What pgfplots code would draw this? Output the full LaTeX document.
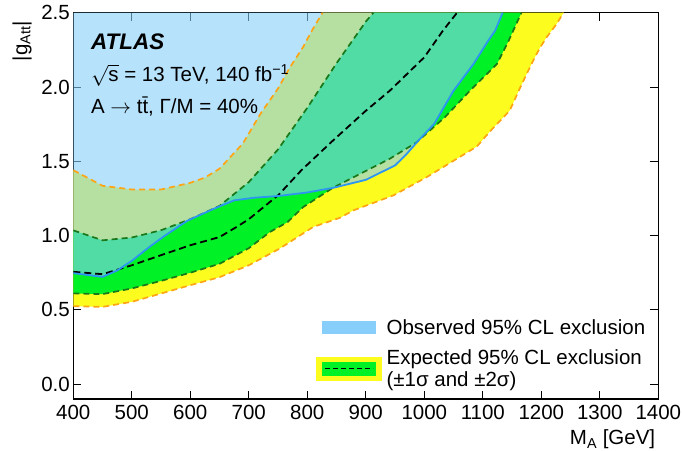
\documentclass[border=0pt]{standalone}
\usepackage{fontspec}
\setmainfont{Liberation Sans}
\usepackage{pgfplots}
\usepackage{pgfplotstable}
\pgfplotsset{compat=1.18}
\usepgfplotslibrary{fillbetween}

\definecolor{obsfill}{RGB}{135,206,250}
\definecolor{obsline}{RGB}{45,150,240}
\definecolor{bandgreen}{RGB}{0,242,38}
\definecolor{bandyellow}{RGB}{252,252,30}
\definecolor{dashorange}{RGB}{255,165,20}
\definecolor{dashgreen}{RGB}{25,120,25}

\pgfplotstableread{
x y
400 0.525
450 0.52
500 0.554
550 0.61
600 0.666
650 0.72
700 0.80
753 0.913
810 1.058
856 1.12
879 1.17
947 1.27
1004 1.393
1061 1.53
1090 1.60
1112 1.70
1146 1.841
1164 1.997
1186 2.177
1198 2.266
1209 2.334
1226 2.423
1238 2.5
}\minustwo

\pgfplotstableread{
x y
400 0.611
450 0.606
500 0.644
550 0.695
600 0.75
650 0.81
700 0.915
736 1.024
766 1.09
793 1.192
844 1.322
896 1.427
941 1.517
987 1.628
1035 1.796
1078 1.975
1124 2.154
1144 2.31
1166 2.5
}\minusone

\pgfplotstableread{
x y
400 0.756
450 0.74
500 0.80
550 0.868
600 0.935
650 0.99
680 1.06
700 1.11
736 1.226
750 1.27
790 1.44
844 1.64
900 1.84
941 1.975
1000 2.20
1032 2.38
1056 2.5
}\median

\pgfplotstableread{
x y
400 1.035
450 0.968
500 0.987
550 1.036
600 1.11
650 1.20
700 1.36
750 1.58
800 1.86
850 2.16
900 2.44
913 2.5
}\plusone

\pgfplotstableread{
x y
400 1.44
450 1.335
500 1.31
550 1.31
600 1.355
625 1.39
650 1.45
690 1.62
720 1.82
750 1.99
770 2.13
793 2.27
808 2.38
826 2.5
}\plustwo

\pgfplotstableread{
x y
400 0.747
450 0.722
475 0.765
500 0.83
530 0.923
555 0.995
595 1.10
640 1.18
675 1.237
710 1.255
750 1.266
800 1.29
845 1.322
900 1.375
950 1.472
970 1.55
990 1.64
1017 1.752
1050 1.975
1084 2.154
1109 2.31
1121 2.378
1134 2.5
}\observed

\pgfplotstableread{
x y
400 2.5
1134 2.5
}\topline

\begin{document}
\begin{tikzpicture}
\begin{axis}[
  at={(73.3pt,51pt)}, anchor=south west,
  scale only axis, width=585pt, height=386.3pt,
  xmin=400, xmax=1400, ymin=-0.1, ymax=2.5,
  xtick={400,500,...,1400},
  ytick={0,0.5,1,1.5,2,2.5},
  minor tick num=0,
  tick align=inside,
  major tick length=8pt,
  tick style={black, line width=0.9pt},
  axis line style={black, line width=1.2pt},
  /pgf/number format/assume math mode=true,
  tick label style={font=\fontsize{20.5}{24}\selectfont},
  xticklabel style={/pgf/number format/1000 sep={}, yshift=-3pt},
  yticklabel style={/pgf/number format/.cd, fixed, fixed zerofill, precision=1},
  xlabel={M\textsubscript{A} [GeV]},
  xlabel style={at={(axis description cs:0.995,-0.119)}, anchor=base east, inner sep=0pt, font=\fontsize{20.5}{24}\selectfont},
  ylabel={|g\textsubscript{Att}|},
  ylabel style={at={(axis description cs:-0.0786,0.979)}, anchor=base east, inner sep=0pt, font=\fontsize{20.5}{24}\selectfont},
  legend style={at={(axis description cs:0.4149,0.2123)}, anchor=north west, draw=none, fill=none,
    font=\fontsize{20.5}{22}\selectfont, row sep=10pt, inner sep=0pt,
    /tikz/every odd column/.append style={column sep=3pt},
    cells={anchor=west, align=left}},
  legend cell align=left,
]
\addplot[name path=m2, draw=none, forget plot] table {\minustwo};
\addplot[name path=p2, draw=none, forget plot] table {\plustwo};
\addplot[name path=m1, draw=none, forget plot] table {\minusone};
\addplot[name path=p1, draw=none, forget plot] table {\plusone};
\addplot[name path=obs, draw=none, forget plot] table {\observed};
\addplot[name path=top, draw=none, forget plot] table {\topline};
\addplot[bandyellow, forget plot] fill between[of=m2 and p2];
\addplot[bandgreen, forget plot] fill between[of=m1 and p1];
\addplot[obsfill, fill opacity=0.6, forget plot] fill between[of=obs and top];
\addplot[dashorange, dash pattern=on 6pt off 4pt, line width=1.7pt, forget plot] table {\minustwo};
\addplot[dashorange, dash pattern=on 6pt off 4pt, line width=1.7pt, forget plot] table {\plustwo};
\addplot[dashgreen, dash pattern=on 6pt off 4pt, line width=1.7pt, forget plot] table {\minusone};
\addplot[dashgreen, dash pattern=on 6pt off 4pt, line width=1.7pt, forget plot] table {\plusone};
\addplot[black, dash pattern=on 7pt off 4pt, line width=1.8pt, forget plot] table {\median};
\addplot[obsline, line width=1.8pt, forget plot] table {\observed};

\addlegendimage{legend image code/.code={\fill[obsfill] (0pt,-5.8pt) rectangle (53pt,5.8pt);}}
\addlegendentry{Observed 95\% CL exclusion}
\addlegendimage{legend image code/.code={\fill[bandyellow] (-6pt,-11.5pt) rectangle (59pt,11.5pt); \fill[bandgreen] (0pt,-6.5pt) rectangle (53pt,6.5pt); \draw[black, dash pattern=on 5pt off 3pt, line width=1.4pt] (3pt,0pt) -- (51pt,0pt);}}
\addlegendentry{Expected 95\% CL exclusion\\(±1σ and ±2σ)}

\node[anchor=base west, inner sep=0pt, font=\fontsize{22.5}{26}\selectfont\bfseries\itshape] at (axis description cs:0.030,0.906) {ATLAS};
\node[anchor=base west, inner sep=0pt, font=\fontsize{20.5}{24}\selectfont] at (axis description cs:0.030,0.821) {$\sqrt{\mbox{s}}$ = 13 TeV, 140 fb\textsuperscript{−1}};
\node[anchor=base west, inner sep=0pt, font=\fontsize{20.5}{24}\selectfont] at (axis description cs:0.030,0.7396) {A $\rightarrow$ t\={t}, Γ/M = 40\%};
\end{axis}
\pgfresetboundingbox
\path[use as bounding box] (0pt,0pt) rectangle (682pt,450pt);
\end{tikzpicture}
\end{document}
